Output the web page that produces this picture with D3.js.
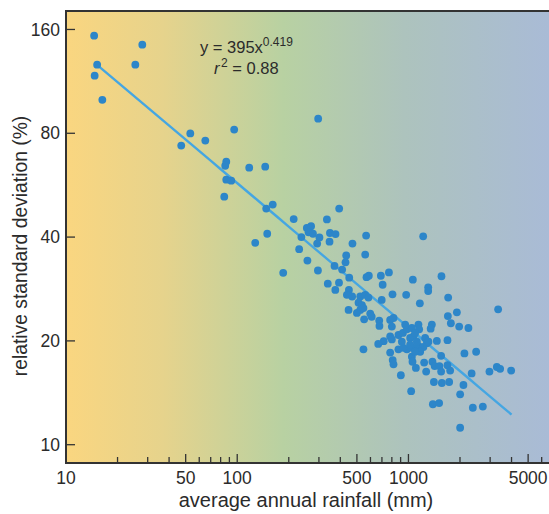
<!DOCTYPE html>
<html>
<head>
<meta charset="utf-8">
<script src="https://cdn.jsdelivr.net/npm/d3@7"></script>
<style>
  body { margin: 0; background: #fff; }
  text { font-family: "Liberation Sans", Arial, sans-serif; fill: #2b2b2b; }
</style>
</head>
<body>
<div id="chart"></div>
<script>
// rainfall (mm) vs relative standard deviation (%)
const rainfall = [
  14.6, 27.9, 15.2, 25.4, 14.7, 16.3, 47.1, 53.2, 65.1, 96.0,
  86.3, 85.1, 117.5, 145.7, 86.3, 92.3, 84.0, 147.7, 161.2, 149.7,
  127.4, 185.6, 297, 394, 213.7, 334, 255, 270, 261, 277,
  237, 302, 348, 375, 566, 346, 293, 471, 230, 433,
  559, 429, 257, 370, 410, 296, 451, 587, 569, 690,
  769, 338, 393, 374, 707, 449, 1219, 1061, 1559, 1304,
  1304, 970, 1706, 1166, 3340, 1918, 1699, 807, 698, 437,
  523, 559, 584, 511, 535, 523, 500, 546, 447, 598,
  551, 610, 675, 677, 782, 818, 800, 1144, 1155, 1370,
  1348, 1769, 1978, 2240, 782, 800, 874, 928, 717, 666,
  546, 1023, 1070, 1252, 1465, 1690, 979, 1047, 1144, 1223,
  1281, 1171, 874, 935, 782, 809, 818, 1047, 1056, 1552,
  2123, 2485, 1235, 1381, 1423, 1517, 1690, 1752, 1105, 1269,
  1552, 2339, 2972, 3282, 3432, 3979, 1408, 1567, 1729, 2095,
  1037, 2004, 1389, 1511, 2377, 2719, 2004, 903, 979, 1047,
  1094, 1120, 915, 1023, 1309, 1094, 957, 469
];
const rsd = [
  153.5, 144.6, 126.5, 126.5, 117.5, 100.0, 73.7, 79.9, 76.2, 82.0,
  66.2, 64.4, 63.6, 64.0, 58.7, 58.3, 52.4, 48.4, 49.7, 40.9,
  38.5, 31.5, 88.2, 48.4, 45.1, 45.0, 42.5, 43.0, 41.3, 40.9,
  40.0, 39.9, 41.1, 40.8, 40.4, 38.8, 38.3, 38.3, 36.9, 35.4,
  35.6, 33.8, 34.2, 33.0, 32.2, 32.0, 30.5, 30.9, 30.6, 30.9,
  31.6, 29.3, 29.5, 28.1, 29.1, 28.1, 40.2, 30.1, 30.8, 28.6,
  27.9, 27.2, 26.7, 25.7, 24.7, 24.2, 23.6, 27.3, 26.3, 27.2,
  26.9, 27.2, 26.7, 25.8, 25.4, 24.6, 24.1, 24.9, 24.6, 24.0,
  23.1, 23.5, 22.9, 22.1, 23.0, 23.3, 22.0, 22.3, 21.6, 22.3,
  21.7, 22.5, 22.0, 21.8, 20.6, 20.2, 20.8, 21.1, 19.96, 19.6,
  18.9, 20.4, 20.6, 20.4, 20.0, 20.1, 18.9, 19.1, 19.3, 19.2,
  19.7, 18.6, 18.9, 19.1, 18.5, 17.6, 17.1, 18.0, 17.4, 18.1,
  18.4, 18.6, 17.3, 17.4, 16.9, 16.9, 17.0, 16.4, 16.7, 16.3,
  16.3, 16.1, 16.3, 16.8, 16.6, 16.4, 15.2, 15.1, 15.2, 14.9,
  14.3, 14.0, 13.1, 13.2, 12.8, 12.9, 11.2, 15.9, 21.6, 21.8,
  21.1, 19.9, 19.9, 19.5, 19.9, 18.6, 22.3, 26.9
];

// power-law fit y = 395 x^-0.419, drawn over the data range
const fitA = 395, fitB = -0.419;
const fitRange = [15, 4000];

const xTickLabels = [10, 50, 100, 500, 1000, 5000];
const yTicks = [10, 20, 40, 80, 160];

const width = 549, height = 514;
const margin = { top: 11, right: 0, bottom: 51, left: 66 };

const svg = d3.select("#chart").append("svg")
    .attr("width", width)
    .attr("height", height);

const x = d3.scaleLog()
    .domain([10, 6620])
    .range([margin.left, width - margin.right]);
const y = d3.scaleLog()
    .domain([8.85, 181])
    .range([height - margin.bottom, margin.top]);

// background gradient, dry (left) to wet (right)
const defs = svg.append("defs");
const grad = defs.append("linearGradient")
    .attr("id", "bg")
    .attr("x1", "0%").attr("x2", "100%")
    .attr("y1", "0%").attr("y2", "0%");
[
  [0, "#fad680"], [0.2, "#e6d38c"], [0.45, "#b8d1a2"],
  [0.7, "#adc3bd"], [1, "#a9bbd6"]
].forEach(([o, c]) => grad.append("stop").attr("offset", o).attr("stop-color", c));

svg.append("rect")
    .attr("x", margin.left)
    .attr("y", margin.top)
    .attr("width", width - margin.left - margin.right)
    .attr("height", height - margin.top - margin.bottom)
    .attr("fill", "url(#bg)");

// fit line
const fitPts = d3.range(0, 51).map(i => {
    const lx = Math.log10(fitRange[0]) + i / 50 * (Math.log10(fitRange[1]) - Math.log10(fitRange[0]));
    const xv = Math.pow(10, lx);
    return [xv, fitA * Math.pow(xv, fitB)];
});
svg.append("path")
    .datum(fitPts)
    .attr("fill", "none")
    .attr("stroke", "#45a6e2")
    .attr("stroke-width", 2.4)
    .attr("d", d3.line().x(d => x(d[0])).y(d => y(d[1])));

// points
const points = rainfall.map((r, i) => ({ r, s: rsd[i] }));
svg.append("g")
    .selectAll("circle")
    .data(points)
    .join("circle")
    .attr("cx", d => x(d.r))
    .attr("cy", d => y(d.s))
    .attr("r", 3.9)
    .attr("fill", "#2d86c9");

// axes
const axisColor = "#333";
const bottom = height - margin.bottom;

// x ticks: all 1-9 per decade, labelled ones longer
const xTickVals = [];
[10, 100, 1000].forEach(dec => {
    for (let k = 1; k <= 9; k++) {
        const v = dec * k;
        if (v > 10 && v < x.domain()[1]) xTickVals.push(v);
    }
});
const xAxis = svg.append("g");
xAxis.selectAll("line")
    .data(xTickVals)
    .join("line")
    .attr("x1", d => x(d)).attr("x2", d => x(d))
    .attr("y1", bottom)
    .attr("y2", d => bottom - (xTickLabels.includes(d) ? 9 : 6))
    .attr("stroke", axisColor)
    .attr("stroke-width", 1.3);
xAxis.selectAll("text")
    .data(xTickLabels)
    .join("text")
    .attr("x", d => x(d))
    .attr("y", bottom + 21)
    .attr("text-anchor", "middle")
    .attr("font-size", 17.5)
    .text(d => d);

const yAxis = svg.append("g");
yAxis.selectAll("line")
    .data(yTicks)
    .join("line")
    .attr("x1", margin.left).attr("x2", margin.left + 9)
    .attr("y1", d => y(d)).attr("y2", d => y(d))
    .attr("stroke", axisColor)
    .attr("stroke-width", 1.3);
yAxis.selectAll("text")
    .data(yTicks)
    .join("text")
    .attr("x", margin.left - 6)
    .attr("y", d => y(d))
    .attr("dy", "0.35em")
    .attr("text-anchor", "end")
    .attr("font-size", 17.5)
    .text(d => d);

// frame: left, top, bottom
svg.append("path")
    .attr("d", `M${width},${margin.top}H${margin.left}V${bottom}H${width}`)
    .attr("fill", "none")
    .attr("stroke", axisColor)
    .attr("stroke-width", 2);

// axis titles
svg.append("text")
    .attr("x", 306)
    .attr("y", 507)
    .attr("text-anchor", "middle")
    .attr("font-size", 20)
    .text("average annual rainfall (mm)");
svg.append("text")
    .attr("transform", `translate(27,246) rotate(-90)`)
    .attr("text-anchor", "middle")
    .attr("font-size", 19.3)
    .text("relative standard deviation (%)");

// equation
const eq = svg.append("text")
    .attr("x", 200)
    .attr("y", 53)
    .attr("font-size", 16.5);
eq.append("tspan").text("y = 395x");
eq.append("tspan").attr("dy", -7).attr("font-size", 12).text("0.419");

const r2 = svg.append("text")
    .attr("x", 214)
    .attr("y", 74)
    .attr("font-size", 16.5);
r2.append("tspan").attr("font-style", "italic").text("r");
r2.append("tspan").attr("dx", 1.5).attr("dy", -7).attr("font-size", 12).text("2");
r2.append("tspan").attr("dy", 7).text(" = 0.88");
</script>
</body>
</html>
